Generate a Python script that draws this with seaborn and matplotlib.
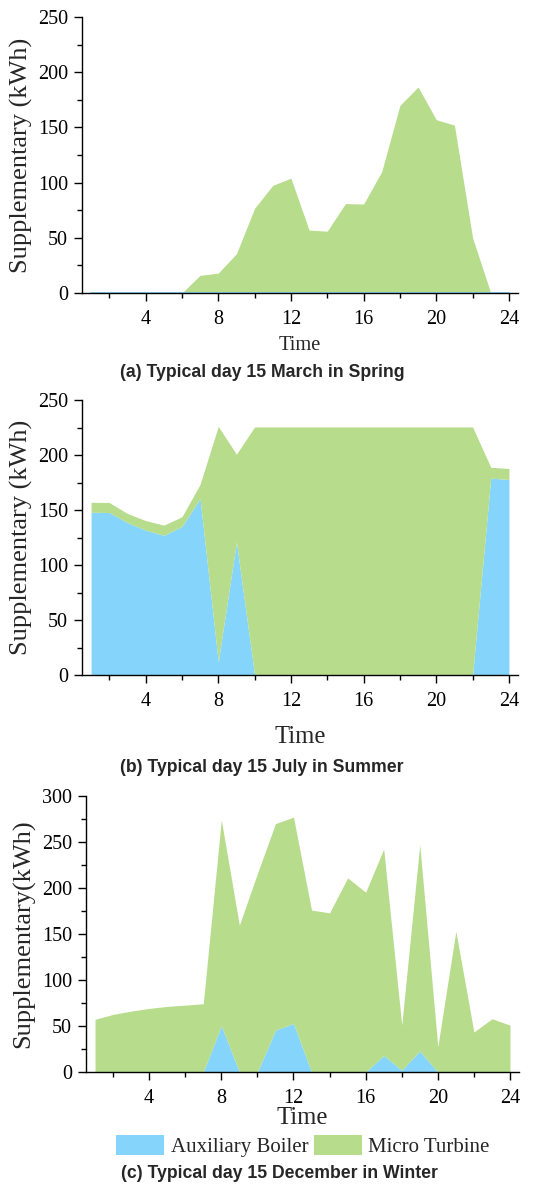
import matplotlib
matplotlib.use("Agg")
import matplotlib.pyplot as plt
from matplotlib.ticker import MultipleLocator
import seaborn as sns
import pandas as pd

# ---------------- data ----------------
hours = list(range(1, 25))

# (a) Spring, 15 March
spring_boiler = [0] * 24
spring_turbine = [0, 0, 0, 0, 0, 0, 16, 18, 35.6, 76.7, 97.5, 104,
                  57, 56, 81, 80.6, 110, 170, 186.6, 157, 152, 50, 0, 0]

# (b) Summer, 15 July
summer_boiler = [148, 147.7, 138.6, 131.7, 127, 135, 160.4, 12, 121, 0, 0, 0,
                 0, 0, 0, 0, 0, 0, 0, 0, 0, 0, 179, 177.7]
summer_turbine = [9, 9.1, 8.2, 8.7, 9.2, 8.8, 13, 214, 79.7, 225.5, 225.5, 225.5,
                  225.5, 225.5, 225.5, 225.5, 225.5, 225.5, 225.5, 225.5, 225.5, 225.5, 9.9, 10]

# (c) Winter, 15 December
winter_boiler = [0, 0, 0, 0, 0, 0, 0, 50.3, 0, 0, 45.6, 52.8,
                 0, 0, 0, 0, 18, 2, 22.8, 0, 0, 0, 0, 0]
winter_turbine = [57.2, 62.6, 66.2, 69.1, 71.3, 72.7, 74.2, 223.7, 159.6, 215.7, 224.4, 224.2,
                  176, 173, 211, 195.4, 224.5, 49, 224.2, 27.5, 153, 43.4, 57.9, 51]

series_names = ["Auxiliary Boiler", "Micro Turbine"]
x_ticks = [4, 8, 12, 16, 20, 24]
captions = ["(a) Typical day 15 March in Spring",
            "(b) Typical day 15 July in Summer",
            "(c) Typical day 15 December in Winter"]
ylabels = ["Supplementary (kWh)", "Supplementary (kWh)", "Supplementary(kWh)"]

# ---------------- style ----------------
sns.set_theme(style="ticks")
plt.rcParams["font.family"] = ["Liberation Serif", "DejaVu Serif"]
plt.rcParams["axes.edgecolor"] = "black"
plt.rcParams["axes.linewidth"] = 1.0

BLUE = "#84D4FB"
GREEN = "#B6DC8C"

W, H = 550, 1186
fig = plt.figure(figsize=(W / 100, H / 100), dpi=100)

def px_axes(left, right, top, bottom):
    return fig.add_axes([left / W, 1 - bottom / H, (right - left) / W, (bottom - top) / H])

panels = [
    dict(rect=(82, 518, 17, 293), boiler=spring_boiler, turbine=spring_turbine, ymax=250,
         xlab_y=-0.19, xlab_fs=14.7, ylab_x=-0.14, cap=(262, 372)),
    dict(rect=(82, 518, 400, 675), boiler=summer_boiler, turbine=summer_turbine, ymax=250,
         xlab_y=-0.225, xlab_fs=17.7, ylab_x=-0.14, cap=(262, 768)),
    dict(rect=(86, 519, 796, 1072), boiler=winter_boiler, turbine=winter_turbine, ymax=300,
         xlab_y=-0.168, xlab_fs=17.7, ylab_x=-0.145, cap=(279, 1174)),
]

axes = []
for i, p in enumerate(panels):
    ax = px_axes(*p["rect"])
    axes.append(ax)
    df = pd.DataFrame({"Time": hours, series_names[0]: p["boiler"], series_names[1]: p["turbine"]})
    ax.stackplot(df["Time"], df[series_names[0]], df[series_names[1]],
                 colors=[BLUE, GREEN], labels=series_names, linewidth=0)
    if i == 0:
        sns.lineplot(data=df, x="Time", y=series_names[0], ax=ax, color=BLUE, lw=1.3,
                     legend=False)
    ax.set_xlim(0.5, 24.5)
    ax.set_ylim(0, p["ymax"])
    ax.xaxis.set_major_locator(MultipleLocator(4))
    ax.xaxis.set_minor_locator(MultipleLocator(2))
    ax.set_xticks(x_ticks)
    ax.yaxis.set_major_locator(MultipleLocator(50))
    ax.yaxis.set_minor_locator(MultipleLocator(25))
    ax.tick_params(axis="both", which="major", direction="out", length=6, width=1,
                   labelsize=14.5, colors="black", pad=4)
    ax.tick_params(axis="x", which="major", pad=6.5)
    ax.tick_params(axis="both", which="minor", direction="out", length=3.4, width=1, colors="black")
    sns.despine(ax=ax)
    ax.set_xlabel("Time", fontsize=p["xlab_fs"], va="center")
    ax.xaxis.set_label_coords(0.5, p["xlab_y"])
    ax.set_ylabel(ylabels[i], fontsize=19, va="center")
    ax.yaxis.set_label_coords(p["ylab_x"], 0.5)
    ax.set_facecolor("white")
    fig.text(p["cap"][0] / W, 1 - p["cap"][1] / H, captions[i], ha="center", va="center",
             fontsize=12.7, fontweight="bold", family=["Liberation Sans", "DejaVu Sans"])

axes[2].legend(loc="center", bbox_to_anchor=(0.501, -0.268), ncol=2, frameon=False,
               fontsize=15, handlelength=2.3, handleheight=1.15, handletextpad=0.33,
               columnspacing=0.25, borderaxespad=0)

fig.savefig("out.png", dpi=100, facecolor="white")
